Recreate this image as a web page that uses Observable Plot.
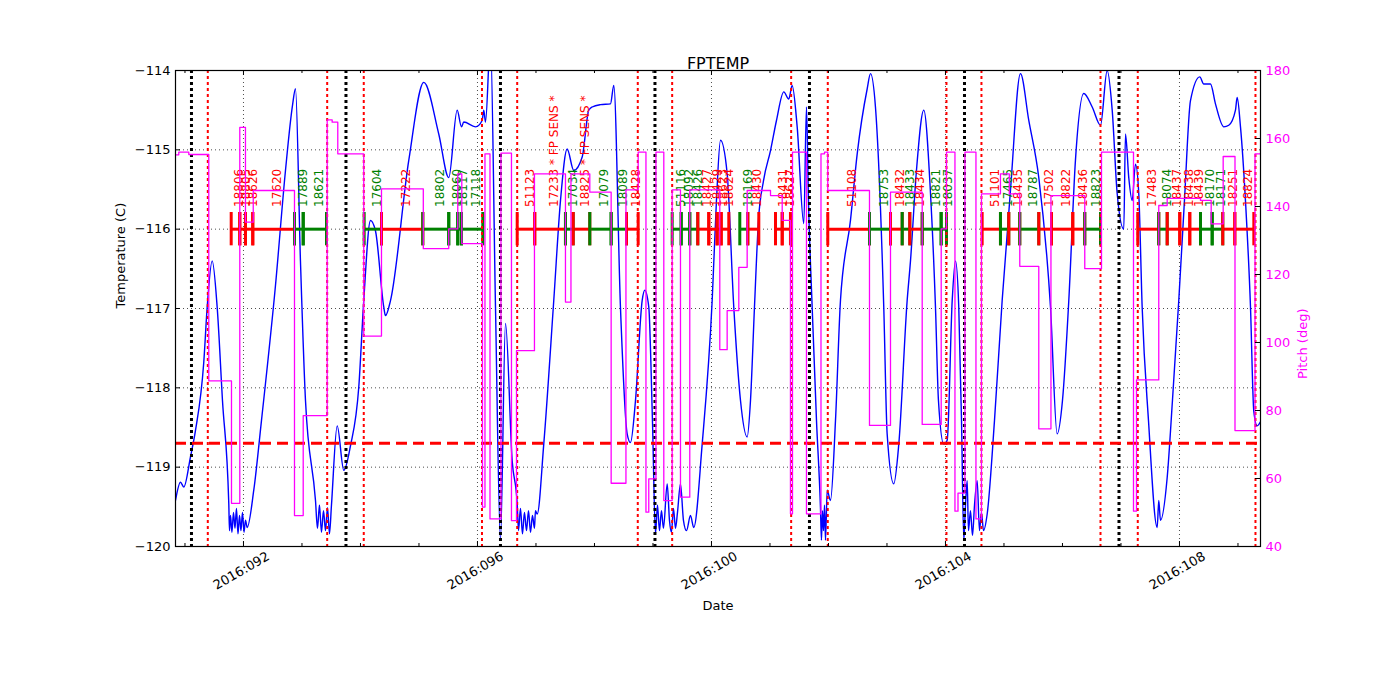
<!DOCTYPE html>
<html><head><meta charset="utf-8">
<script src="https://cdn.jsdelivr.net/npm/d3@7"></script>
<script src="https://cdn.jsdelivr.net/npm/@observablehq/plot@0.6"></script>
<style>body{margin:0;background:#fff;}</style>
</head><body><div id="chart"></div>
<script>
// ---------- data (day of year 2016) ----------
const xMin = 90.838, xMax = 109.385;
const tempMin = -120, tempMax = -114;
const pitchMin = 40, pitchMax = 180;
const fpLimit = -118.7;
const obsLevel = -116;
const obsLabelLevel = -115.72;

const tempTicks = [-120, -119, -118, -117, -116, -115, -114];
const tempGrid = [-119, -118, -117, -116, -115];
const pitchTicks = [40, 60, 80, 100, 120, 140, 160, 180];
const majorDays = [92, 96, 100, 104, 108];
const dayTicks = [91, 92, 93, 94, 95, 96, 97, 98, 99, 100, 101, 102, 103, 104, 105, 106, 107, 108, 109];

const perigeeTimes = [91.111, 93.752, 96.393, 99.034, 101.675, 104.325, 106.966];
const radZoneTimes = [91.390, 93.431, 94.056, 96.077, 96.679, 98.740, 99.328, 101.362, 101.988, 104.017, 104.615, 106.650, 107.287, 109.299];

const obsIds = ["18806","18805","18626","17620","17889","18621","17604","17222","18802","18060","18117","17118",
  "51123","17233 * FP SENS *","17034","18825 * FP SENS *","17079","18089","18428",
  "51116","18092","18426","18427","18429","18623","18624","18169","18430","18431","18627",
  "51108","18753","18432","18433","18434","18821","18037",
  "51101","17465","18435","18787","17502","18822","18436","18823",
  "17483","18074","18437","18438","18439","18170","18171","18251","18824"];
const obsStart = [91.790,91.937,92.034,92.159,92.872,93.021,94.063,94.359,95.065,95.509,95.663,95.726,
  96.679,96.979,97.504,97.636,97.920,98.285,98.547,
  99.328,99.482,99.629,99.766,99.954,100.097,100.166,100.484,100.621,101.094,101.209,
  101.988,102.701,103.060,103.260,103.390,103.602,103.926,
  104.627,104.940,105.082,105.270,105.595,105.812,106.176,106.381,
  107.287,107.646,107.790,108.005,108.176,108.359,108.559,108.740,108.946];
const obsStop = [91.937,92.034,92.159,92.872,93.021,93.419,94.359,95.065,95.509,95.663,95.726,96.091,
  96.979,97.504,97.636,97.920,98.285,98.547,98.747,
  99.482,99.629,99.766,99.954,100.097,100.166,100.296,100.621,100.809,101.209,101.350,
  102.701,103.060,103.260,103.390,103.602,103.926,104.017,
  104.940,105.082,105.270,105.595,105.812,106.176,106.381,106.650,
  107.646,107.790,108.005,108.176,108.359,108.559,108.740,108.946,109.271];
const obsDet = ["S","S","S","S","I","I","I","S","I","I","I","I",
  "S","S","I","S","I","I","S",
  "I","I","I","S","S","S","S","I","S","S","S",
  "S","I","S","I","S","I","I",
  "S","I","S","I","S","S","S","I",
  "S","I","S","S","S","I","I","S","S"];

const tempTime = [90.838,90.923,90.980,91.094,91.179,91.321,91.380,91.465,91.550,91.641,91.749,
  91.761,91.778,91.803,91.829,91.855,91.880,91.906,91.932,91.957,91.983,92.009,92.034,
  92.063,92.176,92.308,92.547,92.718,92.838,92.889,92.974,93.060,93.231,
  93.265,93.299,93.333,93.368,93.402,93.436,93.470,93.504,
  93.602,93.715,93.829,93.971,94.056,94.171,94.256,94.398,94.427,94.513,94.826,95.082,95.338,95.509,95.653,95.726,95.766,95.966,96.080,96.108,96.137,96.222,96.308,96.393,96.479,96.593,96.679,
  96.701,96.735,96.769,96.803,96.838,96.872,96.906,96.940,96.974,
  96.991,97.021,97.133,97.304,97.419,97.533,97.646,97.790,97.903,97.961,98.103,98.274,98.330,98.444,98.559,98.615,98.701,98.815,98.860,98.928,98.991,99.043,
  99.077,99.111,99.145,99.179,99.243,99.282,99.316,99.350,99.385,99.419,99.470,99.521,99.573,99.641,99.697,
  99.841,100.012,100.085,100.154,100.268,100.381,100.496,100.610,100.667,100.735,100.803,100.889,101.009,101.111,101.236,101.321,101.379,101.465,101.578,101.624,101.658,101.721,101.795,101.863,
  101.880,101.897,101.915,101.932,101.949,
  101.978,102.034,102.120,102.205,102.376,102.491,102.662,102.718,102.803,102.945,103.003,103.116,103.202,103.345,103.402,103.504,103.629,103.744,103.829,103.880,103.971,104.029,104.115,104.171,104.227,104.274,104.313,
  104.342,104.371,104.393,104.427,104.462,104.496,104.542,104.581,104.615,104.650,
  104.713,104.838,104.969,105.111,105.282,105.424,105.595,105.795,105.909,106.000,106.108,106.222,106.364,106.508,106.650,106.764,106.850,106.935,107.048,107.077,107.133,107.191,107.248,107.304,107.362,107.470,107.619,107.646,107.675,107.790,107.880,107.988,108.085,108.188,108.347,108.415,108.530,108.615,108.757,108.843,108.957,108.986,109.043,109.128,109.214,109.270,109.328,109.385];
const tempValue = [-119.42,-119.19,-119.25,-118.87,-118.54,-117.68,-116.98,-116.40,-116.98,-118.16,-119.46,
  -119.80,-119.61,-119.82,-119.57,-119.77,-119.52,-119.84,-119.61,-119.80,-119.57,-119.82,-119.67,
  -119.76,-119.29,-118.41,-116.71,-115.26,-114.44,-114.23,-116.40,-118.16,-119.42,
  -119.77,-119.48,-119.82,-119.55,-119.80,-119.51,-119.84,-119.48,
  -118.48,-119.04,-118.73,-117.99,-116.90,-115.89,-116.02,-116.98,-117.09,-116.90,-115.13,-114.15,-114.80,-115.35,-114.50,-114.71,-114.65,-114.71,-114.63,-114.50,-114.65,-113.62,-116.98,-119.92,-117.19,-118.92,-119.46,
  -119.80,-119.52,-119.84,-119.57,-119.80,-119.55,-119.82,-119.61,-119.77,
  -119.55,-119.59,-118.71,-116.90,-115.64,-114.99,-115.26,-115.09,-114.50,-114.46,-114.43,-114.42,-114.19,-116.98,-118.58,-118.69,-118.16,-116.90,-116.77,-116.98,-118.41,-119.84,
  -119.48,-119.80,-119.55,-119.77,-119.21,-119.67,-119.82,-119.52,-119.77,-119.57,-119.21,-119.67,-119.80,-119.61,-119.76,
  -118.71,-116.90,-115.64,-114.88,-115.30,-116.98,-118.16,-118.62,-118.16,-116.98,-115.89,-115.39,-115.01,-114.63,-114.27,-114.36,-114.19,-114.71,-115.93,-114.46,-115.64,-116.98,-118.41,-119.51,
  -119.92,-119.55,-119.80,-119.48,-119.92,
  -119.29,-119.42,-118.41,-116.90,-115.89,-115.05,-114.23,-114.04,-114.46,-116.98,-118.58,-119.21,-118.71,-116.90,-116.40,-115.26,-114.50,-115.55,-116.98,-118.16,-118.71,-118.66,-116.90,-116.40,-116.98,-118.41,-119.92,
  -119.48,-119.17,-119.80,-119.55,-119.86,-119.48,-119.17,-119.80,-119.57,-119.80,
  -119.59,-118.41,-116.90,-115.51,-114.04,-114.63,-115.35,-116.98,-118.58,-118.16,-116.90,-115.13,-114.29,-114.46,-114.69,-114.00,-114.50,-115.55,-116.00,-114.80,-115.35,-115.64,-115.18,-115.55,-116.98,-118.41,-119.76,-119.42,-119.67,-119.13,-118.16,-116.90,-115.64,-114.38,-114.08,-114.17,-114.17,-114.42,-114.71,-114.69,-114.50,-114.34,-114.71,-115.64,-116.98,-118.29,-118.48,-118.43];

const pitchTime = [90.838,90.894,91.065,91.407,91.795,91.937,92.034,92.167,92.872,93.021,93.431,93.516,93.612,94.056,94.359,95.074,95.509,95.663,95.732,96.085,96.128,96.214,96.402,96.581,96.667,96.974,97.504,97.598,97.920,98.285,98.538,98.747,98.880,98.928,99.051,99.185,99.328,99.470,99.629,100.142,100.268,100.467,100.610,101.009,101.209,101.350,101.385,101.624,101.872,101.932,101.988,102.701,103.060,103.602,103.927,104.017,104.162,104.214,104.333,104.521,104.615,104.940,105.091,105.270,105.595,105.803,106.381,106.667,107.214,107.265,107.646,107.790,108.359,108.542,108.747,108.949,109.291,109.385];
const pitchValue = [155.2,156.0,155.3,88.7,52.7,163.3,135.4,144.7,49.1,78.5,165.5,164.8,155.5,101.9,145.2,127.6,133.4,149.6,129.1,51.6,155.5,48.1,155.7,47.6,97.6,149.6,111.9,149.6,144.2,58.6,144.9,156.0,50.1,59.9,156.0,53.5,144.9,54.5,144.9,97.9,109.4,122.1,144.7,143.2,135.9,49.6,156.0,49.6,155.5,156.0,144.7,75.6,144.2,75.9,133.4,156.0,50.4,55.7,156.0,48.1,143.7,149.6,143.7,122.4,74.6,143.2,121.7,156.0,50.4,89.0,140.3,142.4,141.8,134.9,154.7,74.1,155.5,155.5];

// ---------- build ----------
const W = 1400, H = 700, mL = 175, mR = 140, mT = 70, mB = 154;
const pw = W - mL - mR, ph = H - mT - mB;
const pitchToTemp = p => tempMin + (p - pitchMin) * (tempMax - tempMin) / (pitchMax - pitchMin);
const obs = obsIds.map((id, i) => ({id, start: obsStart[i], stop: obsStop[i], det: obsDet[i]}));
const obsTicks = obs.flatMap(d => [{x: d.start, det: d.det}, {x: d.stop, det: d.det}]);
const detColor = d => d.det === "S" ? "#ff0000" : "#008000";
const temp = tempTime.map((t, i) => ({t, v: tempValue[i]}));
const pitch = pitchTime.map((t, i) => ({t, p: pitchValue[i]}));
const fmtDay = d => "2016:" + String(d).padStart(3, "0");
const fmtNum = v => v < 0 ? "\u2212" + Math.abs(v) : String(v);
const minorDays = dayTicks.filter(d => !majorDays.includes(d));
const dotted = {stroke: "black", strokeWidth: 0.7, strokeDasharray: "1,3"};

const chart = Plot.plot({
  width: W, height: H,
  marginLeft: mL, marginRight: mR, marginTop: mT, marginBottom: mB,
  style: {fontFamily: "DejaVu Sans", fontSize: "13px", background: "white", overflow: "visible"},
  x: {domain: [xMin, xMax], axis: null},
  y: {domain: [tempMin, tempMax], axis: null},
  marks: [
    Plot.ruleY(tempGrid, dotted),
    Plot.ruleX(majorDays, dotted),
    Plot.line(temp, {x: "t", y: "v", stroke: "#0000ff", strokeWidth: 1.4, curve: "monotone-x", clip: true}),
    Plot.ruleY(obs, {y: () => obsLevel, x1: "start", x2: "stop", stroke: detColor, strokeWidth: 3}),
    Plot.ruleX(obsTicks, {x: "x", y1: obsLevel - 0.21, y2: obsLevel + 0.21, stroke: detColor, strokeWidth: 3}),
    Plot.text(obs, {x: d => (d.start + d.stop) / 2, y: () => obsLabelLevel, text: "id", rotate: -90,
      textAnchor: "start", lineAnchor: "middle", dx: 4, fill: detColor, fontSize: 12}),
    Plot.ruleX(radZoneTimes, {stroke: "#ff0000", strokeWidth: 2, strokeDasharray: "3,3"}),
    Plot.ruleX(perigeeTimes, {stroke: "black", strokeWidth: 3, strokeDasharray: "3,3"}),
    Plot.ruleY([fpLimit], {stroke: "#ff0000", strokeWidth: 3, strokeDasharray: "11,6"}),
    Plot.line(pitch, {x: "t", y: d => pitchToTemp(d.p), curve: "step-after", stroke: "#ff00ff", strokeWidth: 1.3, clip: true}),
    Plot.frame({stroke: "black", strokeWidth: 1.2}),
    // inward ticks
    Plot.tickX(majorDays, {x: d => d, insetTop: ph - 5, stroke: "black"}),
    Plot.tickX(minorDays, {x: d => d, insetTop: ph - 3, stroke: "black"}),
    Plot.tickX(majorDays, {x: d => d, insetBottom: ph - 5, stroke: "black"}),
    Plot.tickX(minorDays, {x: d => d, insetBottom: ph - 3, stroke: "black"}),
    Plot.tickY(tempTicks, {y: d => d, insetRight: pw - 5, stroke: "black"}),
    Plot.tickY(pitchTicks, {y: p => pitchToTemp(p), insetLeft: pw - 5, stroke: "black"}),
    // tick labels
    Plot.text(majorDays, {x: d => d, frameAnchor: "bottom", dy: 28, rotate: -30, text: fmtDay, fill: "black", fontSize: 13}),
    Plot.text(tempTicks, {y: d => d, frameAnchor: "left", dx: -5, textAnchor: "end", text: fmtNum, fill: "black", fontSize: 13}),
    Plot.text(pitchTicks, {y: p => pitchToTemp(p), frameAnchor: "right", dx: 5, textAnchor: "start", text: p => String(p), fill: "#ff00ff", fontSize: 13}),
    // axis labels and title
    Plot.text(["Temperature (C)"], {frameAnchor: "left", dx: -55, rotate: -90, text: d => d, fill: "black", fontSize: 13}),
    Plot.text(["Pitch (deg)"], {frameAnchor: "right", dx: 42, rotate: -90, text: d => d, fill: "#ff00ff", fontSize: 13}),
    Plot.text(["Date"], {frameAnchor: "bottom", dy: 63, text: d => d, fill: "black", fontSize: 13}),
    Plot.text(["FPTEMP"], {frameAnchor: "top", dy: -13, text: d => d, fill: "black", fontSize: 16})
  ]
});
document.getElementById("chart").appendChild(chart);
</script>
</body></html>
